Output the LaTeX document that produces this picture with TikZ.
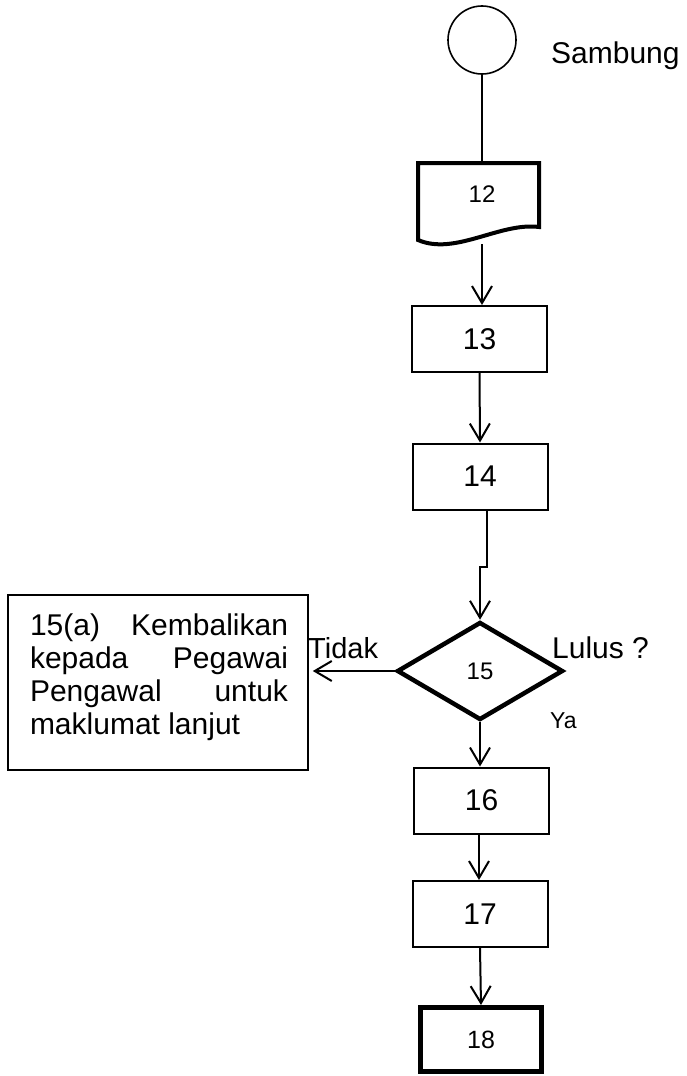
\documentclass[tikz,border=0pt]{standalone}
\usepackage{fontspec}
\setmainfont{Liberation Sans}
\usetikzlibrary{shapes.geometric,arrows.meta}
\begin{document}
\begin{tikzpicture}[x=1pt,y=-1pt,
  conn/.style={line width=2pt},
  arr/.style={line width=2pt,-{Straight Barb[length=17pt,width=20pt,line width=2pt]}},
  procbox/.style={draw,line width=2pt,minimum width=135pt,minimum height=66pt,inner sep=0pt,font=\fontsize{30}{33}\selectfont},
  lbl/.style={inner sep=0pt,anchor=base west}
]
\useasboundingbox (0,0) rectangle (687,1076);
% connector circle
\node[draw,circle,line width=1.6pt,minimum size=68pt,inner sep=0pt] (c) at (482,40) {};
\node[lbl,font=\fontsize{30}{33}\selectfont] (sambung) at (551,63) {Sambung};
% document 12
\node[minimum width=121pt,minimum height=77pt,inner sep=0pt,outer sep=0pt] (n12) at (478.5,201.5) {};
\node[inner sep=0pt,font=\fontsize{24}{26}\selectfont] (t12) at (482,194) {12};
\draw[line width=4pt,line join=miter] (n12.south west) -- (n12.north west) -- (n12.north east) -- ([yshift=13pt]n12.south east)
  .. controls (500,222) and (455,256) .. (n12.south west) -- cycle;
\draw[conn] (c.south) -- (n12.north -| c.south);
% boxes
\node[procbox] (n13) at (479.5,339) {13};
\node[procbox] (n14) at (480,476.5) {14};
\node[draw,diamond,line width=4.5pt,minimum width=166pt,minimum height=98pt,inner sep=0pt,font=\fontsize{24}{26}\selectfont] (n15) at (480,671) {15};
\node[draw,line width=1.6pt,minimum width=300pt,minimum height=175pt,inner sep=0pt] (n15a) at (158,682.5) {};
\node[inner sep=0pt,align=left,font=\fontsize{30}{33}\selectfont] (t15a) at (159,677) {\hbox to 258pt{15(a)\hfill Kembalikan}\\
\hbox to 258pt{kepada\hfill Pegawai}\\
\hbox to 258pt{Pengawal\hfill untuk}\\
\hbox to 258pt{maklumat lanjut\hfill}};
\node[procbox] (n16) at (481.5,800.5) {16};
\node[procbox] (n17) at (480,914) {17};
\node[procbox,line width=5pt,minimum width=121pt,minimum height=64pt,font=\fontsize{25}{27}\selectfont] (n18) at (481,1039.5) {18};
% labels
\node[lbl,font=\fontsize{29}{31}\selectfont] (tidak) at (308,658) {Tidak};
\node[lbl,font=\fontsize{30}{33}\selectfont] (lulus) at (552,658) {Lulus ?};
\node[lbl,font=\fontsize{23}{25}\selectfont] (ya) at (550,728) {Ya};
% connectors
\coordinate (d12) at (482,244);
\draw[arr] (d12) -- (n13.north -| d12);
\draw[arr] (n13.south) -- (n14.north);
\draw[arr] ([xshift=7pt]n14.south) -- ++(0,56) -| (n15.north);
\draw[arr,shorten >=4pt] (n15.west) -- (n15a.east |- n15.west);
\draw[arr] (n15.south) -- (n16.north -| n15.south);
\draw[arr] (n16.south -| 479,0) -- (n17.north -| 479,0);
\draw[arr] (n17.south) -- (n18.north);
\end{tikzpicture}
\end{document}
